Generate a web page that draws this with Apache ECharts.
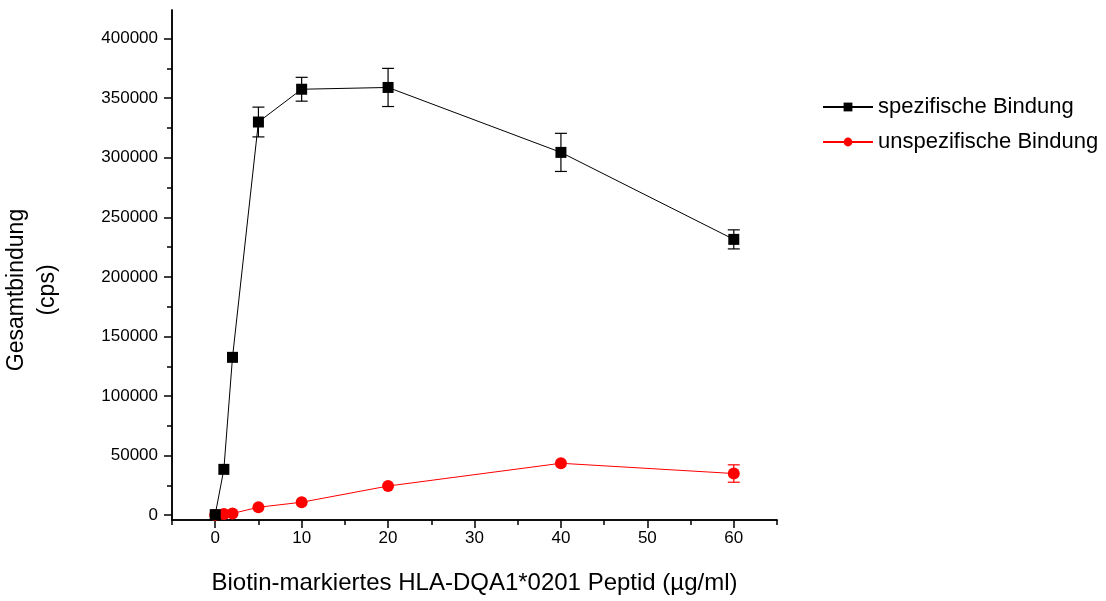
<!DOCTYPE html>
<html>
<head>
<meta charset="utf-8">
<script src="https://cdn.jsdelivr.net/npm/echarts@6/dist/echarts.min.js"></script>
<style>html,body{margin:0;padding:0;background:#fff}#c{width:1106px;height:601px}</style>
</head>
<body>
<div id="c"></div>
<script>
const xValues = [0, 1, 2, 5, 10, 20, 40, 60];
const specific = [500, 38500, 132500, 330000, 357500, 359000, 304500, 231500];
const specificErr = [0, 0, 0, 12500, 10000, 16000, 16000, 8000];
const unspecific = [300, 1000, 1500, 6700, 10900, 24500, 43600, 35000];
const unspecificErr = [0, 0, 0, 0, 0, 0, 0, 7300];
const xMajorTicks = [0, 10, 20, 30, 40, 50, 60];
const xMinorTicks = [-5, 5, 15, 25, 35, 45, 55, 65];
const yMajorTicks = [0, 50000, 100000, 150000, 200000, 250000, 300000, 350000, 400000];
const yMinorTicks = [25000, 75000, 125000, 175000, 225000, 275000, 325000, 375000];
const seriesNames = ['spezifische Bindung', 'unspezifische Bindung'];
const xTitle = 'Biotin-markiertes HLA-DQA1*0201 Peptid (µg/ml)';
const yTitle = 'Gesamtbindung\n(cps)';

const FONT = 'Liberation Sans, Arial, sans-serif';
const chart = echarts.init(document.getElementById('c'), null, {renderer: 'canvas'});

function errData(vals, errs) {
  return xValues.map((x, i) => [x, vals[i] - errs[i], vals[i] + errs[i]]).filter((d, i) => errs[i] > 0);
}
function errSeries(vals, errs, color, z) {
  return {
    type: 'custom', xAxisIndex: 0, yAxisIndex: 0, z: z, silent: true,
    data: errData(vals, errs),
    renderItem: function (params, api) {
      const lo = api.coord([api.value(0), api.value(1)]);
      const hi = api.coord([api.value(0), api.value(2)]);
      const w = 6;
      const st = {stroke: color, lineWidth: 1.2};
      return {type: 'group', children: [
        {type: 'line', shape: {x1: lo[0], y1: lo[1], x2: hi[0], y2: hi[1]}, style: st},
        {type: 'line', shape: {x1: lo[0] - w, y1: lo[1], x2: lo[0] + w, y2: lo[1]}, style: st},
        {type: 'line', shape: {x1: hi[0] - w, y1: hi[1], x2: hi[0] + w, y2: hi[1]}, style: st}
      ]};
    }
  };
}

const axisLine = {show: true, onZero: false, lineStyle: {color: '#000', width: 1.5}};
const xBase = {type: 'value', position: 'bottom', offset: 0, min: -5, max: 65, splitLine: {show: false}, axisLine: axisLine};
const yBase = {type: 'value', position: 'left', offset: 0, min: -4000, max: 424000, splitLine: {show: false}, axisLine: axisLine};
const plain = v => String(v);

chart.setOption({
  animation: false,
  backgroundColor: '#fff',
  grid: {left: 172, right: 329, top: 10, bottom: 81, containLabel: false, outerBoundsMode: 'none'},
  legend: {
    left: 817, top: 91, orient: 'vertical', itemGap: 13, itemWidth: 50, itemHeight: 11,
    textStyle: {fontFamily: FONT, fontSize: 22, color: '#000'},
    data: seriesNames
  },
  xAxis: [
    Object.assign({}, xBase, {
      name: xTitle, nameLocation: 'middle', nameGap: 51,
      nameTextStyle: {fontFamily: FONT, fontSize: 24, color: '#000'},
      axisTick: {show: true, inside: false, length: 8, lineStyle: {color: '#000', width: 1.5}, customValues: xMajorTicks},
      axisLabel: {show: true, fontFamily: FONT, fontSize: 17, color: '#000', margin: 10, customValues: xMajorTicks, formatter: plain}
    }),
    Object.assign({}, xBase, {
      axisTick: {show: true, inside: false, length: 5, lineStyle: {color: '#000', width: 1.5}, customValues: xMinorTicks},
      axisLabel: {show: false}
    })
  ],
  yAxis: [
    Object.assign({}, yBase, {
      name: yTitle, nameLocation: 'middle', nameGap: 109, nameRotate: 90,
      nameTextStyle: {fontFamily: FONT, fontSize: 23, color: '#000', lineHeight: 31, align: 'center', padding: [0, 50, 0, 0]},
      axisTick: {show: true, inside: false, length: 8, lineStyle: {color: '#000', width: 1.5}, customValues: yMajorTicks},
      axisLabel: {show: true, fontFamily: FONT, fontSize: 17, color: '#000', margin: 14, customValues: yMajorTicks, formatter: plain}
    }),
    Object.assign({}, yBase, {
      axisTick: {show: true, inside: false, length: 5, lineStyle: {color: '#000', width: 1.5}, customValues: yMinorTicks},
      axisLabel: {show: false}
    })
  ],
  series: [
    errSeries(specific, specificErr, '#000', 3),
    errSeries(unspecific, unspecificErr, '#f00', 3),
    {
      name: seriesNames[0], type: 'line', xAxisIndex: 0, yAxisIndex: 0, z: 5,
      data: xValues.map((x, i) => [x, specific[i]]),
      symbol: 'rect', symbolSize: 11, showAllSymbol: true,
      lineStyle: {color: '#000', width: 1}, itemStyle: {color: '#000'}
    },
    {
      name: seriesNames[1], type: 'line', xAxisIndex: 0, yAxisIndex: 0, z: 4,
      data: xValues.map((x, i) => [x, unspecific[i]]),
      symbol: 'circle', symbolSize: 12, showAllSymbol: true,
      lineStyle: {color: '#f00', width: 1}, itemStyle: {color: '#f00'}
    }
  ]
});
</script>
</body>
</html>
